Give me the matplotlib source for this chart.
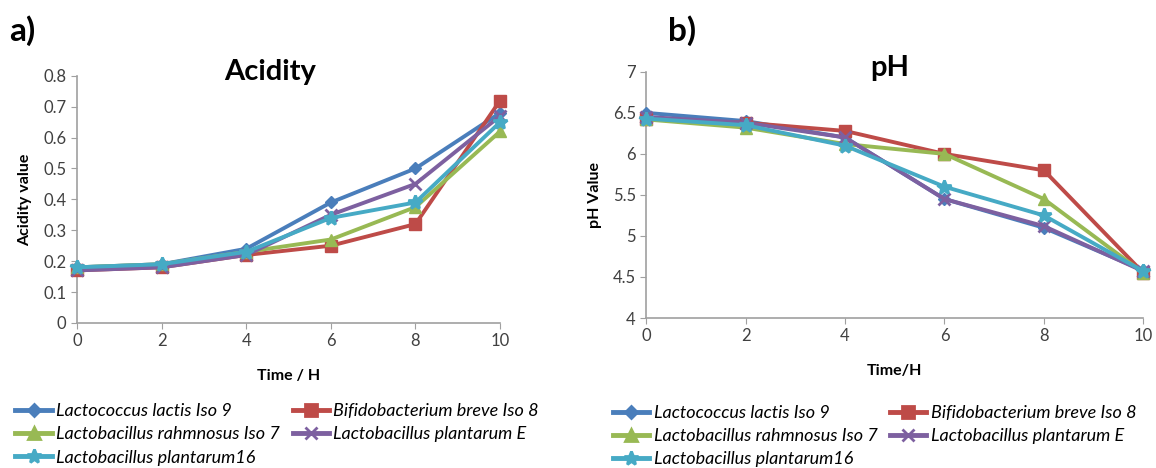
import matplotlib

matplotlib.use("Agg")
import matplotlib.pyplot as plt
from matplotlib.lines import Line2D

plt.rcParams["font.family"] = ["Lato", "DejaVu Sans"]

# ---- data ----
hours = [0, 2, 4, 6, 8, 10]
strains = ["Lactococcus lactis Iso 9", "Bifidobacterium breve Iso 8",
           "Lactobacillus rahmnosus Iso 7", "Lactobacillus plantarum E",
           "Lactobacillus plantarum16"]

acid_lactis = [0.18, 0.19, 0.24, 0.39, 0.50, 0.68]
acid_breve = [0.17, 0.18, 0.22, 0.25, 0.32, 0.72]
acid_rahm = [0.18, 0.19, 0.23, 0.27, 0.375, 0.62]
acid_plantE = [0.17, 0.18, 0.22, 0.35, 0.45, 0.67]
acid_plant16 = [0.18, 0.19, 0.23, 0.34, 0.39, 0.65]

ph_lactis = [6.50, 6.40, 6.20, 5.45, 5.10, 4.58]
ph_breve = [6.42, 6.38, 6.28, 6.00, 5.80, 4.55]
ph_rahm = [6.42, 6.32, 6.12, 6.00, 5.45, 4.55]
ph_plantE = [6.45, 6.38, 6.20, 5.45, 5.12, 4.57]
ph_plant16 = [6.43, 6.35, 6.10, 5.60, 5.25, 4.57]

COLORS = ["#4A7EBB", "#BE4B48", "#98B954", "#7D60A0", "#46AAC5"]
MARKERS = ["D", "s", "^", "x", "*"]
MSIZE = [6, 9, 8, 8, 10]
TICK_C = "#404040"
SPINE_C = "#A0A0A0"


def style(ax):
    for s in ("top", "right"):
        ax.spines[s].set_visible(False)
    for s in ("left", "bottom"):
        ax.spines[s].set_color(SPINE_C)
        ax.spines[s].set_linewidth(1.2)
    ax.tick_params(colors=SPINE_C, labelcolor=TICK_C, labelsize=12, length=4, direction="out")
    ax.set_xticks(hours)
    ax.set_xlim(0, 10)


def draw(ax, series):
    for vals, c, m, ms in zip(series, COLORS, MARKERS, MSIZE):
        ax.plot(hours, vals, color=c, lw=2.8, marker=m, ms=ms, mew=2 if m in "x*" else 1,
                mec=c, mfc=c, clip_on=False, zorder=3)


fig = plt.figure(figsize=(11.56, 4.68), dpi=100, facecolor="white")

ax1 = fig.add_axes([0.0666, 0.310, 0.366, 0.528])
draw(ax1, [acid_lactis, acid_breve, acid_rahm, acid_plantE, acid_plant16])
style(ax1)
ax1.set_ylim(0, 0.8)
ax1.set_yticks([0, 0.1, 0.2, 0.3, 0.4, 0.5, 0.6, 0.7, 0.8])
ax1.set_yticklabels(["0", "0.1", "0.2", "0.3", "0.4", "0.5", "0.6", "0.7", "0.8"])
ax1.set_ylabel("Acidity value", fontsize=11.5, fontweight="bold", labelpad=8)
ax1.set_xlabel("Time / H", fontsize=11.5, fontweight="bold", labelpad=14)
fig.text(270 / 1156, 1 - 72 / 468, "Acidity", ha="center", va="center",
         fontsize=21, fontweight="bold")

ax2 = fig.add_axes([0.559, 0.3205, 0.43, 0.526])
draw(ax2, [ph_lactis, ph_breve, ph_rahm, ph_plantE, ph_plant16])
style(ax2)
ax2.set_ylim(4, 7)
ax2.set_yticks([4, 4.5, 5, 5.5, 6, 6.5, 7])
ax2.set_yticklabels(["4", "4.5", "5", "5.5", "6", "6.5", "7"])
ax2.set_ylabel("pH Value", fontsize=11.5, fontweight="bold", labelpad=8)
ax2.set_xlabel("Time/H", fontsize=11.5, fontweight="bold", labelpad=14)
fig.text(890 / 1156, 1 - 68 / 468, "pH", ha="center", va="center",
         fontsize=21, fontweight="bold")

fig.text(0.008, 0.935, "a)", fontsize=24, fontweight="bold", va="center")
fig.text(0.578, 0.935, "b)", fontsize=24, fontweight="bold", va="center")

# legend filled column-wise, so reorder to read row-wise like the original
order = [0, 2, 4, 1, 3]
handles = [Line2D([], [], color=COLORS[i], lw=3.5, marker=MARKERS[i], ms=MSIZE[i],
                  mec=COLORS[i], mfc=COLORS[i], mew=2) for i in order]
labels = [strains[i] for i in order]
for x0, y0 in ((0.004, -0.018), (0.521, -0.022)):
    fig.legend(handles, labels, loc="lower left", bbox_to_anchor=(x0, y0), ncol=2,
               frameon=False, handlelength=2.0, handletextpad=0.25, columnspacing=0.7,
               labelspacing=0.4, borderaxespad=0.2,
               prop={"style": "italic", "size": 13})

fig.savefig("out.png", dpi=100)
